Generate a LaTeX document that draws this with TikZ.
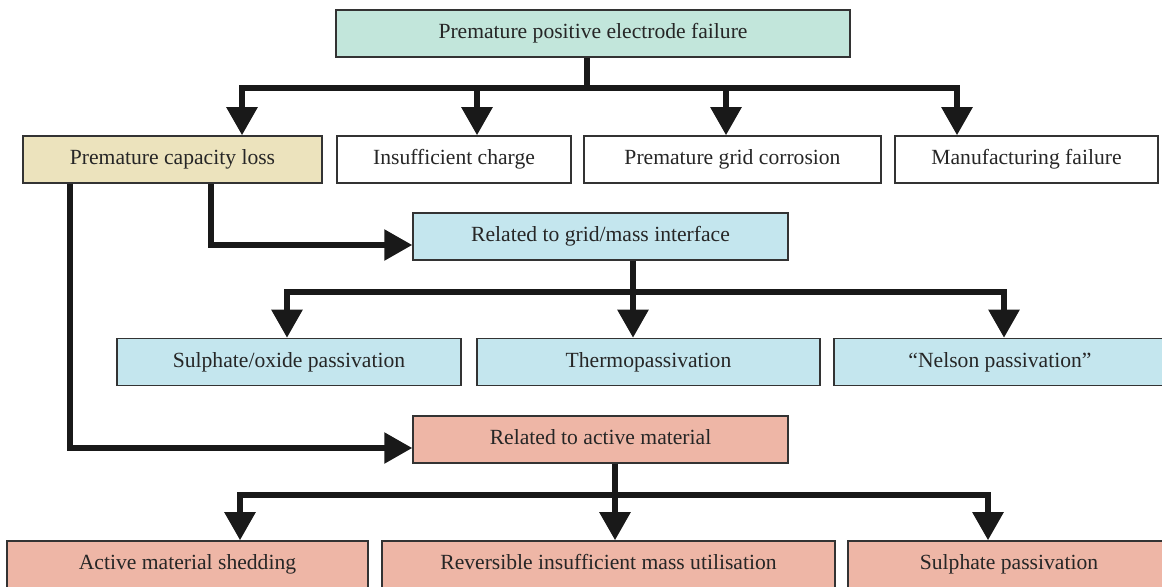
\documentclass[tikz,border=0pt]{standalone}
\usepackage{fontspec}
\setmainfont{Liberation Serif}
\usetikzlibrary{arrows.meta}

\definecolor{topgreen}{RGB}{194,230,219}
\definecolor{capyellow}{RGB}{236,227,189}
\definecolor{gridblue}{RGB}{196,230,238}
\definecolor{activered}{RGB}{238,182,166}

\tikzset{
  box/.style={draw=black!80, line width=0.9pt, minimum height=0.94cm, inner sep=0pt,
    text height=8.6pt, text depth=2.6pt,
    text=black!85, font=\fontsize{12.3}{14}\selectfont},
  link/.style={line width=3.2pt, black!90, -{Triangle[width=0.6cm,length=0.56cm]}},
}

\begin{document}
\begin{tikzpicture}[x=0.02cm, y=-0.02cm]
    \useasboundingbox (0,0) rectangle (1162,586);

    \node[box, fill=topgreen, minimum width=10.28cm] (top) at (593,33.5) {Premature positive electrode failure};

    \node[box, fill=capyellow, minimum width=5.98cm] (cap) at (172.5,159.5) {Premature capacity loss};
    \node[box, fill=white, minimum width=4.68cm] (insuf) at (454,159.5) {Insufficient charge};
    \node[box, fill=white, minimum width=5.94cm] (corr) at (732.5,159.5) {Premature grid corrosion};
    \node[box, fill=white, minimum width=5.26cm] (manuf) at (1026.5,159.5) {Manufacturing failure};

    \node[box, fill=gridblue, minimum width=7.5cm] (grid) at (600.5,236.5) {Related to grid/mass interface};
    \node[box, fill=gridblue, minimum width=6.88cm] (sulox) at (289,362) {Sulphate/oxide passivation};
    \node[box, fill=gridblue, minimum width=6.86cm] (thermo) at (648.5,362) {Thermopassivation};
    \node[box, fill=gridblue, minimum width=6.64cm] (nelson) at (1000,362) {“Nelson passivation”};

    \node[box, fill=activered, minimum width=7.5cm] (active) at (600.5,439.5) {Related to active material};
    \node[box, fill=activered, minimum width=7.22cm] (shed) at (187.5,564.5) {Active material shedding};
    \node[box, fill=activered, minimum width=9.06cm] (rev) at (608.5,564.5) {Reversible insufficient mass utilisation};
    \node[box, fill=activered, minimum width=6.44cm] (sulph) at (1009,564.5) {Sulphate passivation};

    \coordinate (bus1) at (587,88);
    \coordinate (capin) at (242,0 |- cap.north);
    \coordinate (insin) at (477,0 |- insuf.north);
    \coordinate (corin) at (726,0 |- corr.north);
    \coordinate (manin) at (957,0 |- manuf.north);
    \foreach \t in {capin,insin,corin,manin}
        \draw[link] (top.south -| bus1) -- (bus1) -| (\t);

    \draw[link] (cap.south -| 211,0) |- (grid.west |- 0,245);
    \draw[link] (cap.south -| 70,0) |- (active.west |- 0,448);

    \coordinate (bus2) at (633,292);
    \coordinate (soxin) at (287,0 |- sulox.north);
    \coordinate (thin) at (633,0 |- thermo.north);
    \coordinate (nelin) at (1004,0 |- nelson.north);
    \foreach \t in {soxin,thin,nelin}
        \draw[link] (grid.south -| bus2) -- (bus2) -| (\t);

    \coordinate (bus3) at (615,495);
    \coordinate (shin) at (240,0 |- shed.north);
    \coordinate (rvin) at (615,0 |- rev.north);
    \coordinate (spin) at (988,0 |- sulph.north);
    \foreach \t in {shin,rvin,spin}
        \draw[link] (active.south -| bus3) -- (bus3) -| (\t);
\end{tikzpicture}
\end{document}
